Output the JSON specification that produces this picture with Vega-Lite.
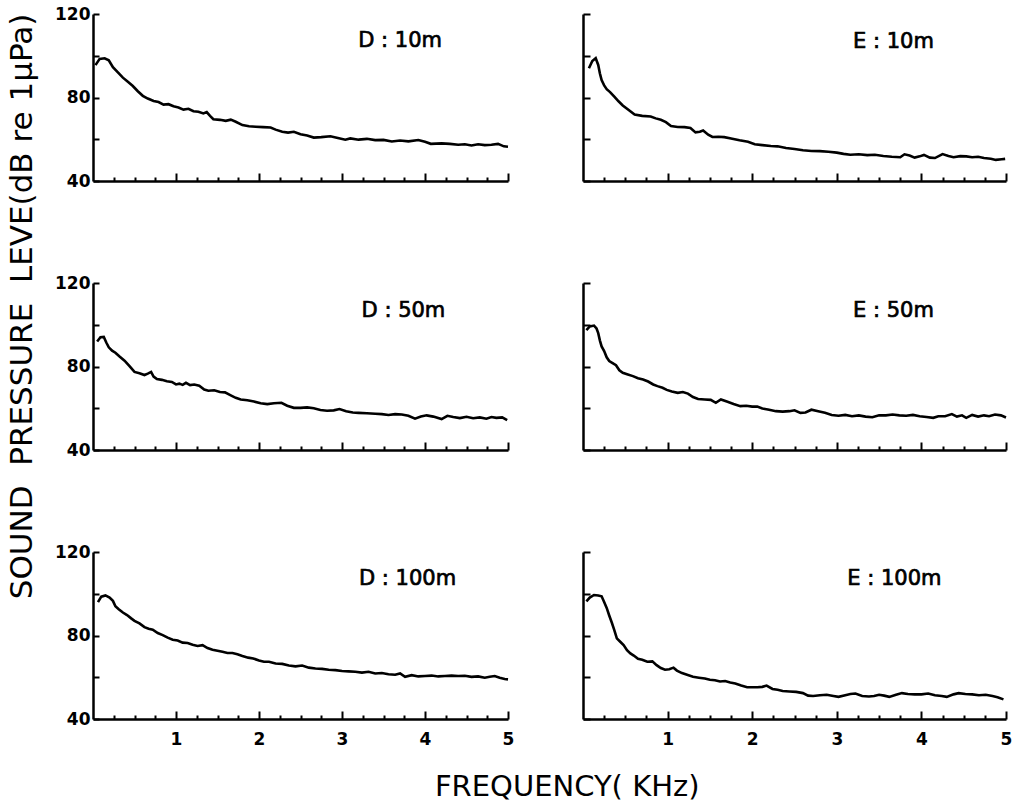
{
  "$schema": "https://vega.github.io/schema/vega-lite/v6.json",
  "background": "white",
  "padding": {"left": 6, "top": 5, "right": 5, "bottom": 5},
  "datasets": {
    "spectra": [
      {"panel":"D10","kHz":0.03,"dB":95.5},{"panel":"D10","kHz":0.08,"dB":98.5},{"panel":"D10","kHz":0.14,"dB":98.8},{"panel":"D10","kHz":0.19,"dB":97.8},{"panel":"D10","kHz":0.24,"dB":94.5},{"panel":"D10","kHz":0.3,"dB":92},{"panel":"D10","kHz":0.36,"dB":89.5},{"panel":"D10","kHz":0.42,"dB":87.5},{"panel":"D10","kHz":0.48,"dB":85.5},{"panel":"D10","kHz":0.54,"dB":83},{"panel":"D10","kHz":0.6,"dB":80.8},{"panel":"D10","kHz":0.66,"dB":79.5},{"panel":"D10","kHz":0.73,"dB":78.3},{"panel":"D10","kHz":0.79,"dB":77.8},{"panel":"D10","kHz":0.85,"dB":76.6},{"panel":"D10","kHz":0.91,"dB":76.8},{"panel":"D10","kHz":0.97,"dB":75.8},{"panel":"D10","kHz":1.03,"dB":75.2},{"panel":"D10","kHz":1.09,"dB":74.2},{"panel":"D10","kHz":1.15,"dB":74.6},{"panel":"D10","kHz":1.21,"dB":73.4},{"panel":"D10","kHz":1.27,"dB":73.2},{"panel":"D10","kHz":1.33,"dB":72.4},{"panel":"D10","kHz":1.37,"dB":73.0},{"panel":"D10","kHz":1.41,"dB":71.2},{"panel":"D10","kHz":1.45,"dB":69.6},{"panel":"D10","kHz":1.53,"dB":69.3},{"panel":"D10","kHz":1.6,"dB":68.8},{"panel":"D10","kHz":1.66,"dB":69.4},{"panel":"D10","kHz":1.72,"dB":68.4},{"panel":"D10","kHz":1.8,"dB":66.8},{"panel":"D10","kHz":1.88,"dB":66.2},{"panel":"D10","kHz":1.96,"dB":66.0},{"panel":"D10","kHz":2.05,"dB":65.8},{"panel":"D10","kHz":2.14,"dB":65.6},{"panel":"D10","kHz":2.2,"dB":64.6},{"panel":"D10","kHz":2.28,"dB":63.6},{"panel":"D10","kHz":2.35,"dB":63.2},{"panel":"D10","kHz":2.42,"dB":63.6},{"panel":"D10","kHz":2.5,"dB":62.4},{"panel":"D10","kHz":2.58,"dB":61.8},{"panel":"D10","kHz":2.66,"dB":60.8},{"panel":"D10","kHz":2.75,"dB":61.0},{"panel":"D10","kHz":2.86,"dB":61.4},{"panel":"D10","kHz":2.95,"dB":60.6},{"panel":"D10","kHz":3.04,"dB":59.8},{"panel":"D10","kHz":3.1,"dB":60.4},{"panel":"D10","kHz":3.2,"dB":59.8},{"panel":"D10","kHz":3.3,"dB":60.2},{"panel":"D10","kHz":3.4,"dB":59.6},{"panel":"D10","kHz":3.5,"dB":59.7},{"panel":"D10","kHz":3.6,"dB":58.9},{"panel":"D10","kHz":3.7,"dB":59.4},{"panel":"D10","kHz":3.8,"dB":59.0},{"panel":"D10","kHz":3.92,"dB":59.6},{"panel":"D10","kHz":4.0,"dB":58.8},{"panel":"D10","kHz":4.07,"dB":57.8},{"panel":"D10","kHz":4.2,"dB":58.0},{"panel":"D10","kHz":4.3,"dB":57.8},{"panel":"D10","kHz":4.4,"dB":57.4},{"panel":"D10","kHz":4.48,"dB":57.6},{"panel":"D10","kHz":4.56,"dB":57.0},{"panel":"D10","kHz":4.64,"dB":57.6},{"panel":"D10","kHz":4.72,"dB":57.2},{"panel":"D10","kHz":4.8,"dB":57.4},{"panel":"D10","kHz":4.88,"dB":57.8},{"panel":"D10","kHz":4.95,"dB":56.6},{"panel":"D10","kHz":5.0,"dB":56.4},

      {"panel":"E10","kHz":0.07,"dB":94},{"panel":"E10","kHz":0.11,"dB":97.5},{"panel":"E10","kHz":0.15,"dB":98.8},{"panel":"E10","kHz":0.18,"dB":95.6},{"panel":"E10","kHz":0.2,"dB":91.5},{"panel":"E10","kHz":0.22,"dB":88.3},{"panel":"E10","kHz":0.25,"dB":85.8},{"panel":"E10","kHz":0.28,"dB":84.0},{"panel":"E10","kHz":0.32,"dB":82.6},{"panel":"E10","kHz":0.37,"dB":80.4},{"panel":"E10","kHz":0.42,"dB":78.2},{"panel":"E10","kHz":0.47,"dB":76.2},{"panel":"E10","kHz":0.54,"dB":74.0},{"panel":"E10","kHz":0.61,"dB":71.8},{"panel":"E10","kHz":0.7,"dB":71.2},{"panel":"E10","kHz":0.8,"dB":70.9},{"panel":"E10","kHz":0.86,"dB":70.0},{"panel":"E10","kHz":0.92,"dB":69.3},{"panel":"E10","kHz":0.98,"dB":68.2},{"panel":"E10","kHz":1.04,"dB":66.3},{"panel":"E10","kHz":1.12,"dB":65.9},{"panel":"E10","kHz":1.2,"dB":65.8},{"panel":"E10","kHz":1.27,"dB":65.4},{"panel":"E10","kHz":1.33,"dB":63.3},{"panel":"E10","kHz":1.38,"dB":63.6},{"panel":"E10","kHz":1.42,"dB":64.2},{"panel":"E10","kHz":1.48,"dB":62.2},{"panel":"E10","kHz":1.53,"dB":61.1},{"panel":"E10","kHz":1.6,"dB":61.2},{"panel":"E10","kHz":1.67,"dB":61.0},{"panel":"E10","kHz":1.75,"dB":60.4},{"panel":"E10","kHz":1.85,"dB":59.5},{"panel":"E10","kHz":1.95,"dB":58.8},{"panel":"E10","kHz":2.03,"dB":57.6},{"panel":"E10","kHz":2.12,"dB":57.2},{"panel":"E10","kHz":2.22,"dB":56.8},{"panel":"E10","kHz":2.3,"dB":56.6},{"panel":"E10","kHz":2.4,"dB":55.8},{"panel":"E10","kHz":2.5,"dB":55.3},{"panel":"E10","kHz":2.6,"dB":54.7},{"panel":"E10","kHz":2.7,"dB":54.4},{"panel":"E10","kHz":2.8,"dB":54.3},{"panel":"E10","kHz":2.9,"dB":54.0},{"panel":"E10","kHz":3.0,"dB":53.6},{"panel":"E10","kHz":3.08,"dB":53.0},{"panel":"E10","kHz":3.16,"dB":52.6},{"panel":"E10","kHz":3.26,"dB":52.8},{"panel":"E10","kHz":3.36,"dB":52.4},{"panel":"E10","kHz":3.45,"dB":52.6},{"panel":"E10","kHz":3.55,"dB":52.0},{"panel":"E10","kHz":3.65,"dB":51.6},{"panel":"E10","kHz":3.75,"dB":51.4},{"panel":"E10","kHz":3.8,"dB":52.8},{"panel":"E10","kHz":3.86,"dB":52.2},{"panel":"E10","kHz":3.92,"dB":51.2},{"panel":"E10","kHz":3.98,"dB":51.8},{"panel":"E10","kHz":4.03,"dB":52.5},{"panel":"E10","kHz":4.1,"dB":51.2},{"panel":"E10","kHz":4.16,"dB":51.0},{"panel":"E10","kHz":4.25,"dB":52.9},{"panel":"E10","kHz":4.32,"dB":52.0},{"panel":"E10","kHz":4.38,"dB":51.4},{"panel":"E10","kHz":4.46,"dB":51.9},{"panel":"E10","kHz":4.53,"dB":51.8},{"panel":"E10","kHz":4.6,"dB":51.4},{"panel":"E10","kHz":4.67,"dB":51.6},{"panel":"E10","kHz":4.74,"dB":51.0},{"panel":"E10","kHz":4.82,"dB":50.7},{"panel":"E10","kHz":4.88,"dB":50.1},{"panel":"E10","kHz":4.95,"dB":50.4},{"panel":"E10","kHz":4.99,"dB":50.6},

      {"panel":"D50","kHz":0.05,"dB":92.0},{"panel":"D50","kHz":0.09,"dB":94.0},{"panel":"D50","kHz":0.13,"dB":94.2},{"panel":"D50","kHz":0.16,"dB":91.5},{"panel":"D50","kHz":0.19,"dB":89.2},{"panel":"D50","kHz":0.23,"dB":87.6},{"panel":"D50","kHz":0.27,"dB":86.6},{"panel":"D50","kHz":0.32,"dB":84.8},{"panel":"D50","kHz":0.38,"dB":82.8},{"panel":"D50","kHz":0.44,"dB":80.2},{"panel":"D50","kHz":0.5,"dB":77.4},{"panel":"D50","kHz":0.56,"dB":76.8},{"panel":"D50","kHz":0.62,"dB":75.9},{"panel":"D50","kHz":0.66,"dB":76.6},{"panel":"D50","kHz":0.7,"dB":77.4},{"panel":"D50","kHz":0.73,"dB":75.2},{"panel":"D50","kHz":0.77,"dB":74.0},{"panel":"D50","kHz":0.83,"dB":73.6},{"panel":"D50","kHz":0.89,"dB":72.9},{"panel":"D50","kHz":0.95,"dB":72.6},{"panel":"D50","kHz":1.0,"dB":71.4},{"panel":"D50","kHz":1.04,"dB":71.8},{"panel":"D50","kHz":1.08,"dB":71.2},{"panel":"D50","kHz":1.12,"dB":72.2},{"panel":"D50","kHz":1.17,"dB":71.1},{"panel":"D50","kHz":1.22,"dB":71.4},{"panel":"D50","kHz":1.28,"dB":70.8},{"panel":"D50","kHz":1.34,"dB":69.0},{"panel":"D50","kHz":1.39,"dB":68.4},{"panel":"D50","kHz":1.46,"dB":68.6},{"panel":"D50","kHz":1.53,"dB":67.8},{"panel":"D50","kHz":1.59,"dB":67.6},{"panel":"D50","kHz":1.66,"dB":66.2},{"panel":"D50","kHz":1.72,"dB":65.0},{"panel":"D50","kHz":1.78,"dB":64.2},{"panel":"D50","kHz":1.86,"dB":63.8},{"panel":"D50","kHz":1.94,"dB":63.2},{"panel":"D50","kHz":2.02,"dB":62.4},{"panel":"D50","kHz":2.1,"dB":62.0},{"panel":"D50","kHz":2.18,"dB":62.4},{"panel":"D50","kHz":2.27,"dB":62.6},{"panel":"D50","kHz":2.34,"dB":61.2},{"panel":"D50","kHz":2.42,"dB":60.2},{"panel":"D50","kHz":2.5,"dB":60.2},{"panel":"D50","kHz":2.58,"dB":60.4},{"panel":"D50","kHz":2.66,"dB":60.0},{"panel":"D50","kHz":2.74,"dB":59.2},{"panel":"D50","kHz":2.82,"dB":58.8},{"panel":"D50","kHz":2.9,"dB":59.0},{"panel":"D50","kHz":2.97,"dB":59.6},{"panel":"D50","kHz":3.05,"dB":58.6},{"panel":"D50","kHz":3.13,"dB":58.0},{"panel":"D50","kHz":3.2,"dB":57.8},{"panel":"D50","kHz":3.3,"dB":57.6},{"panel":"D50","kHz":3.4,"dB":57.4},{"panel":"D50","kHz":3.48,"dB":57.2},{"panel":"D50","kHz":3.56,"dB":56.8},{"panel":"D50","kHz":3.64,"dB":57.2},{"panel":"D50","kHz":3.72,"dB":57.0},{"panel":"D50","kHz":3.8,"dB":56.4},{"panel":"D50","kHz":3.88,"dB":55.0},{"panel":"D50","kHz":3.95,"dB":56.0},{"panel":"D50","kHz":4.02,"dB":56.6},{"panel":"D50","kHz":4.1,"dB":56.0},{"panel":"D50","kHz":4.2,"dB":54.8},{"panel":"D50","kHz":4.27,"dB":56.4},{"panel":"D50","kHz":4.34,"dB":55.8},{"panel":"D50","kHz":4.42,"dB":55.3},{"panel":"D50","kHz":4.5,"dB":55.9},{"panel":"D50","kHz":4.58,"dB":55.2},{"panel":"D50","kHz":4.66,"dB":55.6},{"panel":"D50","kHz":4.74,"dB":55.0},{"panel":"D50","kHz":4.8,"dB":55.8},{"panel":"D50","kHz":4.86,"dB":55.4},{"panel":"D50","kHz":4.93,"dB":55.6},{"panel":"D50","kHz":4.99,"dB":54.3},

      {"panel":"E50","kHz":0.04,"dB":97.4},{"panel":"E50","kHz":0.08,"dB":99.2},{"panel":"E50","kHz":0.13,"dB":99.6},{"panel":"E50","kHz":0.16,"dB":98.2},{"panel":"E50","kHz":0.18,"dB":96.0},{"panel":"E50","kHz":0.2,"dB":92.4},{"panel":"E50","kHz":0.22,"dB":89.6},{"panel":"E50","kHz":0.25,"dB":87.4},{"panel":"E50","kHz":0.28,"dB":84.4},{"panel":"E50","kHz":0.31,"dB":82.6},{"panel":"E50","kHz":0.35,"dB":81.6},{"panel":"E50","kHz":0.39,"dB":80.6},{"panel":"E50","kHz":0.43,"dB":78.2},{"panel":"E50","kHz":0.47,"dB":77.0},{"panel":"E50","kHz":0.53,"dB":76.2},{"panel":"E50","kHz":0.59,"dB":75.4},{"panel":"E50","kHz":0.65,"dB":74.4},{"panel":"E50","kHz":0.71,"dB":73.8},{"panel":"E50","kHz":0.77,"dB":72.8},{"panel":"E50","kHz":0.83,"dB":71.4},{"panel":"E50","kHz":0.88,"dB":70.6},{"panel":"E50","kHz":0.94,"dB":69.8},{"panel":"E50","kHz":0.99,"dB":68.8},{"panel":"E50","kHz":1.05,"dB":68.0},{"panel":"E50","kHz":1.12,"dB":67.4},{"panel":"E50","kHz":1.18,"dB":67.8},{"panel":"E50","kHz":1.24,"dB":67.0},{"panel":"E50","kHz":1.3,"dB":65.4},{"panel":"E50","kHz":1.36,"dB":64.4},{"panel":"E50","kHz":1.44,"dB":64.2},{"panel":"E50","kHz":1.51,"dB":64.0},{"panel":"E50","kHz":1.57,"dB":62.6},{"panel":"E50","kHz":1.63,"dB":64.2},{"panel":"E50","kHz":1.7,"dB":63.2},{"panel":"E50","kHz":1.78,"dB":62.0},{"panel":"E50","kHz":1.86,"dB":61.0},{"panel":"E50","kHz":1.93,"dB":61.2},{"panel":"E50","kHz":2.0,"dB":60.8},{"panel":"E50","kHz":2.06,"dB":60.8},{"panel":"E50","kHz":2.12,"dB":59.9},{"panel":"E50","kHz":2.2,"dB":59.3},{"panel":"E50","kHz":2.28,"dB":58.6},{"panel":"E50","kHz":2.36,"dB":58.4},{"panel":"E50","kHz":2.44,"dB":58.6},{"panel":"E50","kHz":2.5,"dB":59.0},{"panel":"E50","kHz":2.57,"dB":57.8},{"panel":"E50","kHz":2.63,"dB":58.0},{"panel":"E50","kHz":2.7,"dB":59.3},{"panel":"E50","kHz":2.78,"dB":58.6},{"panel":"E50","kHz":2.86,"dB":57.8},{"panel":"E50","kHz":2.94,"dB":56.8},{"panel":"E50","kHz":3.02,"dB":56.4},{"panel":"E50","kHz":3.1,"dB":56.8},{"panel":"E50","kHz":3.18,"dB":56.2},{"panel":"E50","kHz":3.26,"dB":56.6},{"panel":"E50","kHz":3.34,"dB":56.0},{"panel":"E50","kHz":3.42,"dB":55.7},{"panel":"E50","kHz":3.5,"dB":56.6},{"panel":"E50","kHz":3.58,"dB":56.6},{"panel":"E50","kHz":3.66,"dB":57.0},{"panel":"E50","kHz":3.74,"dB":56.6},{"panel":"E50","kHz":3.82,"dB":56.4},{"panel":"E50","kHz":3.9,"dB":56.8},{"panel":"E50","kHz":3.98,"dB":56.2},{"panel":"E50","kHz":4.06,"dB":55.8},{"panel":"E50","kHz":4.14,"dB":55.4},{"panel":"E50","kHz":4.2,"dB":56.2},{"panel":"E50","kHz":4.28,"dB":56.2},{"panel":"E50","kHz":4.36,"dB":57.2},{"panel":"E50","kHz":4.42,"dB":56.0},{"panel":"E50","kHz":4.48,"dB":56.6},{"panel":"E50","kHz":4.53,"dB":55.4},{"panel":"E50","kHz":4.6,"dB":56.8},{"panel":"E50","kHz":4.67,"dB":56.0},{"panel":"E50","kHz":4.74,"dB":56.6},{"panel":"E50","kHz":4.8,"dB":56.2},{"panel":"E50","kHz":4.87,"dB":57.0},{"panel":"E50","kHz":4.94,"dB":56.6},{"panel":"E50","kHz":5.0,"dB":55.6},

      {"panel":"D100","kHz":0.06,"dB":96.0},{"panel":"D100","kHz":0.1,"dB":98.6},{"panel":"D100","kHz":0.15,"dB":99.2},{"panel":"D100","kHz":0.2,"dB":98.2},{"panel":"D100","kHz":0.24,"dB":96.6},{"panel":"D100","kHz":0.27,"dB":94.0},{"panel":"D100","kHz":0.31,"dB":92.6},{"panel":"D100","kHz":0.36,"dB":91.0},{"panel":"D100","kHz":0.41,"dB":89.8},{"panel":"D100","kHz":0.46,"dB":88.2},{"panel":"D100","kHz":0.5,"dB":87.0},{"panel":"D100","kHz":0.56,"dB":85.8},{"panel":"D100","kHz":0.62,"dB":84.0},{"panel":"D100","kHz":0.67,"dB":83.2},{"panel":"D100","kHz":0.72,"dB":82.8},{"panel":"D100","kHz":0.78,"dB":81.2},{"panel":"D100","kHz":0.84,"dB":80.2},{"panel":"D100","kHz":0.9,"dB":79.0},{"panel":"D100","kHz":0.96,"dB":78.0},{"panel":"D100","kHz":1.02,"dB":77.6},{"panel":"D100","kHz":1.08,"dB":76.6},{"panel":"D100","kHz":1.14,"dB":76.4},{"panel":"D100","kHz":1.2,"dB":75.6},{"panel":"D100","kHz":1.26,"dB":75.0},{"panel":"D100","kHz":1.32,"dB":75.4},{"panel":"D100","kHz":1.38,"dB":74.0},{"panel":"D100","kHz":1.44,"dB":73.2},{"panel":"D100","kHz":1.5,"dB":72.7},{"panel":"D100","kHz":1.56,"dB":72.2},{"panel":"D100","kHz":1.62,"dB":71.6},{"panel":"D100","kHz":1.68,"dB":71.6},{"panel":"D100","kHz":1.74,"dB":71.0},{"panel":"D100","kHz":1.8,"dB":70.2},{"panel":"D100","kHz":1.87,"dB":69.4},{"panel":"D100","kHz":1.93,"dB":69.0},{"panel":"D100","kHz":2.0,"dB":68.0},{"panel":"D100","kHz":2.06,"dB":67.4},{"panel":"D100","kHz":2.12,"dB":67.4},{"panel":"D100","kHz":2.2,"dB":66.6},{"panel":"D100","kHz":2.28,"dB":66.4},{"panel":"D100","kHz":2.36,"dB":65.6},{"panel":"D100","kHz":2.44,"dB":65.2},{"panel":"D100","kHz":2.52,"dB":65.6},{"panel":"D100","kHz":2.6,"dB":64.6},{"panel":"D100","kHz":2.68,"dB":64.2},{"panel":"D100","kHz":2.76,"dB":64.0},{"panel":"D100","kHz":2.84,"dB":63.6},{"panel":"D100","kHz":2.92,"dB":63.4},{"panel":"D100","kHz":3.0,"dB":63.0},{"panel":"D100","kHz":3.08,"dB":62.8},{"panel":"D100","kHz":3.16,"dB":62.6},{"panel":"D100","kHz":3.24,"dB":62.2},{"panel":"D100","kHz":3.32,"dB":62.6},{"panel":"D100","kHz":3.4,"dB":61.8},{"panel":"D100","kHz":3.48,"dB":62.0},{"panel":"D100","kHz":3.56,"dB":61.4},{"panel":"D100","kHz":3.64,"dB":61.2},{"panel":"D100","kHz":3.7,"dB":61.8},{"panel":"D100","kHz":3.76,"dB":60.2},{"panel":"D100","kHz":3.84,"dB":61.0},{"panel":"D100","kHz":3.92,"dB":60.4},{"panel":"D100","kHz":4.0,"dB":60.6},{"panel":"D100","kHz":4.08,"dB":60.8},{"panel":"D100","kHz":4.16,"dB":60.4},{"panel":"D100","kHz":4.24,"dB":60.6},{"panel":"D100","kHz":4.32,"dB":60.8},{"panel":"D100","kHz":4.4,"dB":60.6},{"panel":"D100","kHz":4.48,"dB":60.7},{"panel":"D100","kHz":4.56,"dB":60.2},{"panel":"D100","kHz":4.64,"dB":60.4},{"panel":"D100","kHz":4.72,"dB":59.8},{"panel":"D100","kHz":4.78,"dB":60.2},{"panel":"D100","kHz":4.84,"dB":60.6},{"panel":"D100","kHz":4.9,"dB":59.8},{"panel":"D100","kHz":4.96,"dB":59.2},{"panel":"D100","kHz":5.0,"dB":59.0},

      {"panel":"E100","kHz":0.04,"dB":96.4},{"panel":"E100","kHz":0.08,"dB":98.2},{"panel":"E100","kHz":0.13,"dB":99.4},{"panel":"E100","kHz":0.18,"dB":99.2},{"panel":"E100","kHz":0.22,"dB":98.8},{"panel":"E100","kHz":0.25,"dB":96.0},{"panel":"E100","kHz":0.28,"dB":93.2},{"panel":"E100","kHz":0.31,"dB":89.6},{"panel":"E100","kHz":0.34,"dB":86.2},{"panel":"E100","kHz":0.37,"dB":82.6},{"panel":"E100","kHz":0.4,"dB":78.6},{"panel":"E100","kHz":0.44,"dB":77.0},{"panel":"E100","kHz":0.48,"dB":75.4},{"panel":"E100","kHz":0.52,"dB":73.0},{"panel":"E100","kHz":0.56,"dB":71.4},{"panel":"E100","kHz":0.6,"dB":70.4},{"panel":"E100","kHz":0.65,"dB":68.8},{"panel":"E100","kHz":0.7,"dB":68.4},{"panel":"E100","kHz":0.76,"dB":67.4},{"panel":"E100","kHz":0.82,"dB":67.6},{"panel":"E100","kHz":0.87,"dB":65.8},{"panel":"E100","kHz":0.92,"dB":64.4},{"panel":"E100","kHz":0.97,"dB":63.6},{"panel":"E100","kHz":1.02,"dB":63.8},{"panel":"E100","kHz":1.07,"dB":64.6},{"panel":"E100","kHz":1.11,"dB":63.2},{"panel":"E100","kHz":1.17,"dB":62.0},{"panel":"E100","kHz":1.23,"dB":61.2},{"panel":"E100","kHz":1.3,"dB":60.2},{"panel":"E100","kHz":1.37,"dB":59.8},{"panel":"E100","kHz":1.44,"dB":59.4},{"panel":"E100","kHz":1.5,"dB":58.8},{"panel":"E100","kHz":1.56,"dB":58.6},{"panel":"E100","kHz":1.62,"dB":58.0},{"panel":"E100","kHz":1.68,"dB":58.2},{"panel":"E100","kHz":1.74,"dB":57.5},{"panel":"E100","kHz":1.8,"dB":57.0},{"panel":"E100","kHz":1.87,"dB":56.0},{"panel":"E100","kHz":1.94,"dB":55.2},{"panel":"E100","kHz":2.0,"dB":55.2},{"panel":"E100","kHz":2.06,"dB":55.2},{"panel":"E100","kHz":2.12,"dB":55.4},{"panel":"E100","kHz":2.17,"dB":56.0},{"panel":"E100","kHz":2.24,"dB":54.4},{"panel":"E100","kHz":2.3,"dB":54.0},{"panel":"E100","kHz":2.36,"dB":53.4},{"panel":"E100","kHz":2.44,"dB":53.2},{"panel":"E100","kHz":2.52,"dB":53.0},{"panel":"E100","kHz":2.6,"dB":52.4},{"panel":"E100","kHz":2.66,"dB":51.2},{"panel":"E100","kHz":2.72,"dB":51.0},{"panel":"E100","kHz":2.8,"dB":51.4},{"panel":"E100","kHz":2.88,"dB":51.6},{"panel":"E100","kHz":2.96,"dB":51.0},{"panel":"E100","kHz":3.02,"dB":50.6},{"panel":"E100","kHz":3.1,"dB":51.4},{"panel":"E100","kHz":3.16,"dB":52.0},{"panel":"E100","kHz":3.22,"dB":52.2},{"panel":"E100","kHz":3.3,"dB":51.0},{"panel":"E100","kHz":3.38,"dB":50.8},{"panel":"E100","kHz":3.44,"dB":51.0},{"panel":"E100","kHz":3.5,"dB":51.6},{"panel":"E100","kHz":3.56,"dB":51.2},{"panel":"E100","kHz":3.62,"dB":50.6},{"panel":"E100","kHz":3.7,"dB":51.6},{"panel":"E100","kHz":3.77,"dB":52.4},{"panel":"E100","kHz":3.84,"dB":52.0},{"panel":"E100","kHz":3.92,"dB":51.8},{"panel":"E100","kHz":4.0,"dB":51.8},{"panel":"E100","kHz":4.08,"dB":52.2},{"panel":"E100","kHz":4.16,"dB":51.4},{"panel":"E100","kHz":4.24,"dB":51.0},{"panel":"E100","kHz":4.3,"dB":50.6},{"panel":"E100","kHz":4.38,"dB":51.8},{"panel":"E100","kHz":4.44,"dB":52.4},{"panel":"E100","kHz":4.52,"dB":52.0},{"panel":"E100","kHz":4.6,"dB":51.8},{"panel":"E100","kHz":4.68,"dB":51.4},{"panel":"E100","kHz":4.76,"dB":51.6},{"panel":"E100","kHz":4.84,"dB":51.0},{"panel":"E100","kHz":4.9,"dB":50.4},{"panel":"E100","kHz":4.97,"dB":49.4}
    ]
  },
  "data": {"name": "spectra"},
  "columns": 2,
  "spacing": {"row": 102, "column": 75},
  "bounds": "flush",
  "title": {"text": "FREQUENCY( KHz)", "orient": "bottom", "anchor": "middle", "font": "DejaVu Sans", "fontSize": 29, "fontWeight": "normal", "color": "black", "offset": 26, "dx": 58},
  "concat": [
    {
      "width": 415, "height": 167,
      "layer": [
        {"transform": [{"filter": "datum.panel === 'D10'"}],
         "mark": {"type": "line", "color": "black", "strokeWidth": 2.6},
         "encoding": {
           "x": {"field": "kHz", "type": "quantitative", "scale": {"domain": [0, 5], "nice": false, "zero": false},
                 "axis": {"orient": "bottom", "values": [0.25,0.5,0.75,1.25,1.5,1.75,2.25,2.5,2.75,3.25,3.5,3.75,4.25,4.5,4.75], "tickSize": -4, "labels": false, "title": null}},
           "y": {"field": "dB", "type": "quantitative", "scale": {"domain": [40, 120], "nice": false, "zero": false},
                 "axis": {"values": [40,50,60,70,80,90,100,110,120], "tickSize": -6, "labelExpr": "datum.value % 40 === 0 ? datum.label : ''", "labelPadding": 9, "title": null}}
         }},
        {"data": {"values": [{"label": "D : 10m"}]},
         "mark": {"type": "text", "font": "DejaVu Sans", "fontSize": 21, "fontWeight": "normal", "color": "black", "stroke": "black", "strokeWidth": 0.7, "align": "center", "baseline": "middle"},
         "encoding": {
           "x": {"datum": 3.7, "type": "quantitative", "scale": {"domain": [0, 5], "nice": false, "zero": false},
                 "axis": {"orient": "bottom", "values": [1,2,3,4,5], "tickSize": -8, "labels": false, "domain": false, "title": null}},
           "y": {"datum": 107, "type": "quantitative"},
           "text": {"field": "label"}
         }}
      ],
      "resolve": {"axis": {"x": "independent"}}
    },
    {
      "width": 423, "height": 167,
      "layer": [
        {"transform": [{"filter": "datum.panel === 'E10'"}],
         "mark": {"type": "line", "color": "black", "strokeWidth": 2.6},
         "encoding": {
           "x": {"field": "kHz", "type": "quantitative", "scale": {"domain": [0, 5], "nice": false, "zero": false},
                 "axis": {"orient": "bottom", "values": [0.25,0.5,0.75,1.25,1.5,1.75,2.25,2.5,2.75,3.25,3.5,3.75,4.25,4.5,4.75], "tickSize": -4, "labels": false, "title": null}},
           "y": {"field": "dB", "type": "quantitative", "scale": {"domain": [40, 120], "nice": false, "zero": false},
                 "axis": {"values": [40,50,60,70,80,90,100,110,120], "tickSize": -7, "labels": false, "title": null}}
         }},
        {"data": {"values": [{"label": "E : 10m"}]},
         "mark": {"type": "text", "font": "DejaVu Sans", "fontSize": 21, "fontWeight": "normal", "color": "black", "stroke": "black", "strokeWidth": 0.7, "align": "center", "baseline": "middle"},
         "encoding": {
           "x": {"datum": 3.67, "type": "quantitative", "scale": {"domain": [0, 5], "nice": false, "zero": false},
                 "axis": {"orient": "bottom", "values": [1,2,3,4,5], "tickSize": -8, "labels": false, "domain": false, "title": null}},
           "y": {"datum": 106.5, "type": "quantitative"},
           "text": {"field": "label"}
         }}
      ],
      "resolve": {"axis": {"x": "independent"}}
    },
    {
      "width": 415, "height": 167,
      "layer": [
        {"transform": [{"filter": "datum.panel === 'D50'"}],
         "mark": {"type": "line", "color": "black", "strokeWidth": 2.6},
         "encoding": {
           "x": {"field": "kHz", "type": "quantitative", "scale": {"domain": [0, 5], "nice": false, "zero": false},
                 "axis": {"orient": "bottom", "values": [0.25,0.5,0.75,1.25,1.5,1.75,2.25,2.5,2.75,3.25,3.5,3.75,4.25,4.5,4.75], "tickSize": -4, "labels": false, "title": null}},
           "y": {"field": "dB", "type": "quantitative", "scale": {"domain": [40, 120], "nice": false, "zero": false},
                 "axis": {"values": [40,50,60,70,80,90,100,110,120], "tickSize": -6, "labelExpr": "datum.value % 40 === 0 ? datum.label : ''", "labelPadding": 9,
                          "title": "SOUND\u00a0\u00a0PRESSURE\u00a0\u00a0LEVE(dB re 1µPa)", "titleFont": "DejaVu Sans", "titleFontSize": 31, "titleFontWeight": "normal", "titleColor": "black", "titleY": 23, "titlePadding": 16}}
         }},
        {"data": {"values": [{"label": "D : 50m"}]},
         "mark": {"type": "text", "font": "DejaVu Sans", "fontSize": 21, "fontWeight": "normal", "color": "black", "stroke": "black", "strokeWidth": 0.7, "align": "center", "baseline": "middle"},
         "encoding": {
           "x": {"datum": 3.74, "type": "quantitative", "scale": {"domain": [0, 5], "nice": false, "zero": false},
                 "axis": {"orient": "bottom", "values": [1,2,3,4,5], "tickSize": -8, "labels": false, "domain": false, "title": null}},
           "y": {"datum": 106.5, "type": "quantitative"},
           "text": {"field": "label"}
         }}
      ],
      "resolve": {"axis": {"x": "independent"}}
    },
    {
      "width": 423, "height": 167,
      "layer": [
        {"transform": [{"filter": "datum.panel === 'E50'"}],
         "mark": {"type": "line", "color": "black", "strokeWidth": 2.6},
         "encoding": {
           "x": {"field": "kHz", "type": "quantitative", "scale": {"domain": [0, 5], "nice": false, "zero": false},
                 "axis": {"orient": "bottom", "values": [0.25,0.5,0.75,1.25,1.5,1.75,2.25,2.5,2.75,3.25,3.5,3.75,4.25,4.5,4.75], "tickSize": -4, "labels": false, "title": null}},
           "y": {"field": "dB", "type": "quantitative", "scale": {"domain": [40, 120], "nice": false, "zero": false},
                 "axis": {"values": [40,50,60,70,80,90,100,110,120], "tickSize": -7, "labels": false, "title": null}}
         }},
        {"data": {"values": [{"label": "E : 50m"}]},
         "mark": {"type": "text", "font": "DejaVu Sans", "fontSize": 21, "fontWeight": "normal", "color": "black", "stroke": "black", "strokeWidth": 0.7, "align": "center", "baseline": "middle"},
         "encoding": {
           "x": {"datum": 3.67, "type": "quantitative", "scale": {"domain": [0, 5], "nice": false, "zero": false},
                 "axis": {"orient": "bottom", "values": [1,2,3,4,5], "tickSize": -8, "labels": false, "domain": false, "title": null}},
           "y": {"datum": 106.5, "type": "quantitative"},
           "text": {"field": "label"}
         }}
      ],
      "resolve": {"axis": {"x": "independent"}}
    },
    {
      "width": 415, "height": 167,
      "layer": [
        {"transform": [{"filter": "datum.panel === 'D100'"}],
         "mark": {"type": "line", "color": "black", "strokeWidth": 2.6},
         "encoding": {
           "x": {"field": "kHz", "type": "quantitative", "scale": {"domain": [0, 5], "nice": false, "zero": false},
                 "axis": {"orient": "bottom", "values": [0.25,0.5,0.75,1.25,1.5,1.75,2.25,2.5,2.75,3.25,3.5,3.75,4.25,4.5,4.75], "tickSize": -4, "labels": false, "title": null}},
           "y": {"field": "dB", "type": "quantitative", "scale": {"domain": [40, 120], "nice": false, "zero": false},
                 "axis": {"values": [40,50,60,70,80,90,100,110,120], "tickSize": -6, "labelExpr": "datum.value % 40 === 0 ? datum.label : ''", "labelPadding": 9, "title": null}}
         }},
        {"data": {"values": [{"label": "D : 100m"}]},
         "mark": {"type": "text", "font": "DejaVu Sans", "fontSize": 21, "fontWeight": "normal", "color": "black", "stroke": "black", "strokeWidth": 0.7, "align": "center", "baseline": "middle"},
         "encoding": {
           "x": {"datum": 3.79, "type": "quantitative", "scale": {"domain": [0, 5], "nice": false, "zero": false},
                 "axis": {"orient": "bottom", "values": [1,2,3,4,5], "tickSize": -8, "labels": true, "labelPadding": 20, "domain": false, "title": null}},
           "y": {"datum": 107, "type": "quantitative"},
           "text": {"field": "label"}
         }}
      ],
      "resolve": {"axis": {"x": "independent"}}
    },
    {
      "width": 423, "height": 167,
      "layer": [
        {"transform": [{"filter": "datum.panel === 'E100'"}],
         "mark": {"type": "line", "color": "black", "strokeWidth": 2.6},
         "encoding": {
           "x": {"field": "kHz", "type": "quantitative", "scale": {"domain": [0, 5], "nice": false, "zero": false},
                 "axis": {"orient": "bottom", "values": [0.25,0.5,0.75,1.25,1.5,1.75,2.25,2.5,2.75,3.25,3.5,3.75,4.25,4.5,4.75], "tickSize": -4, "labels": false, "title": null}},
           "y": {"field": "dB", "type": "quantitative", "scale": {"domain": [40, 120], "nice": false, "zero": false},
                 "axis": {"values": [40,50,60,70,80,90,100,110,120], "tickSize": -7, "labels": false, "title": null}}
         }},
        {"data": {"values": [{"label": "E : 100m"}]},
         "mark": {"type": "text", "font": "DejaVu Sans", "fontSize": 21, "fontWeight": "normal", "color": "black", "stroke": "black", "strokeWidth": 0.7, "align": "center", "baseline": "middle"},
         "encoding": {
           "x": {"datum": 3.68, "type": "quantitative", "scale": {"domain": [0, 5], "nice": false, "zero": false},
                 "axis": {"orient": "bottom", "values": [1,2,3,4,5], "tickSize": -8, "labels": true, "labelPadding": 20, "domain": false, "title": null}},
           "y": {"datum": 107, "type": "quantitative"},
           "text": {"field": "label"}
         }}
      ],
      "resolve": {"axis": {"x": "independent"}}
    }
  ],
  "config": {
    "font": "DejaVu Sans",
    "view": {"stroke": null},
    "axis": {
      "grid": false,
      "domainColor": "black",
      "domainWidth": 2.5,
      "tickColor": "black",
      "tickWidth": 2,
      "labelColor": "black",
      "labelFont": "DejaVu Sans",
      "labelFontSize": 17,
      "labelFontWeight": "bold",
      "labelOverlap": false,
      "labelFlush": false
    }
  }
}
